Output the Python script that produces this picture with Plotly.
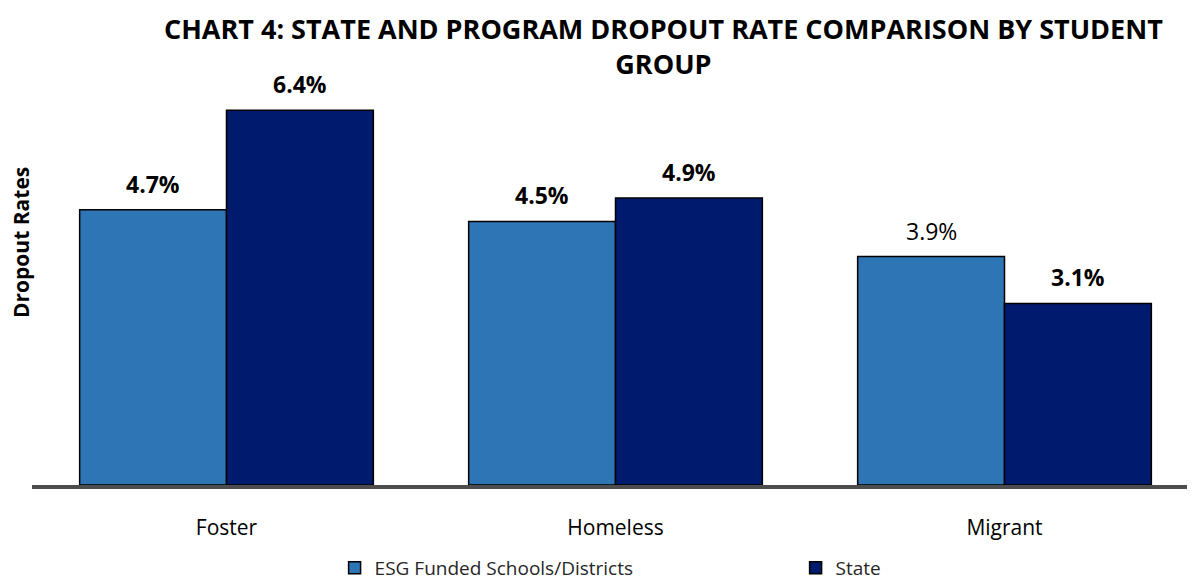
import plotly.graph_objects as go

categories = ["Foster", "Homeless", "Migrant"]
esg_values = [4.7, 4.5, 3.9]
state_values = [6.4, 4.9, 3.1]
esg_labels = ["<b>4.7%</b>", "<b>4.5%</b>", "3.9%"]
state_labels = ["<b>6.4%</b>", "<b>4.9%</b>", "<b>3.1%</b>"]
series_names = ["ESG Funded Schools/Districts", "State"]

FONT = "Open Sans"
W, H = 1195, 579
L, R, T, B = 24, 4, 67, 102
BARGAP = 0.245
PW, PH = W - L - R, H - T - B

fig = go.Figure()
fig.add_trace(go.Bar(
    x=categories, y=esg_values, name=series_names[0],
    marker=dict(color="#2E75B6", line=dict(color="#000000", width=1.5)),
))
fig.add_trace(go.Bar(
    x=categories, y=state_values, name=series_names[1],
    marker=dict(color="#001A6E", line=dict(color="#000000", width=1.5)),
))

# value labels above each bar (offset = quarter of group width in category units)
half = (1 - BARGAP) / 4
annotations = []
for i, cat in enumerate(categories):
    for vals, labels, sign in ((esg_values, esg_labels, -1), (state_values, state_labels, 1)):
        annotations.append(dict(
            x=i + sign * half, y=vals[i], xref="x", yref="y",
            text=labels[i], showarrow=False, xanchor="center", yanchor="bottom",
            yshift=8, font=dict(family=FONT, size=23, color="#000000"),
        ))

annotations.append(dict(
    text="<b>CHART 4: STATE AND PROGRAM DROPOUT RATE COMPARISON BY STUDENT<br>GROUP</b>",
    xref="paper", yref="paper", x=(655 - L) / PW, y=1 + (T - 38) / PH,
    xanchor="center", yanchor="middle", showarrow=False,
    font=dict(family=FONT, size=27, color="#000000"),
))
annotations.append(dict(
    text="<b>Dropout Rates</b>", textangle=-90,
    xref="paper", yref="paper", x=(13 - L) / PW, y=(T + PH - 235) / PH,
    xanchor="center", yanchor="middle", showarrow=False,
    font=dict(family=FONT, size=21, color="#000000"),
))

fig.update_layout(
    width=W, height=H,
    margin=dict(l=L, r=R, t=T, b=B),
    paper_bgcolor="white", plot_bgcolor="white",
    barmode="group", bargap=BARGAP, bargroupgap=0,
    font=dict(family=FONT, color="#000000"),
    xaxis=dict(
        showline=True, linecolor="#4D4D4D", linewidth=4,
        ticks="", ticklabelstandoff=21,
        tickfont=dict(family=FONT, size=21, color="#000000"),
        showgrid=False, automargin=False,
    ),
    yaxis=dict(
        range=[0, 7], showticklabels=False, showgrid=False,
        zeroline=False, showline=False, ticks="", automargin=False,
    ),
    legend=dict(
        orientation="h", xref="container", yref="container",
        x=0.2733, xanchor="left", y=0.0, yanchor="bottom",
        font=dict(family=FONT, size=19, color="#262626"),
        entrywidth=416, entrywidthmode="pixels", itemwidth=30,
        traceorder="normal",
    ),
    annotations=annotations,
)

fig.write_html("out.html")
